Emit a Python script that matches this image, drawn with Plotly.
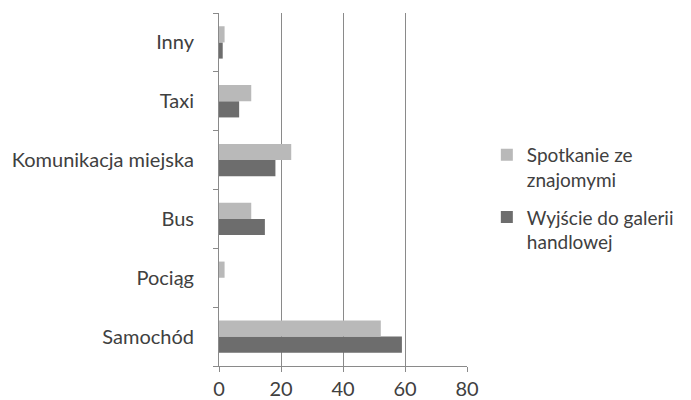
import plotly.graph_objects as go

categories = ["Samochód", "Pociąg", "Bus", "Komunikacja miejska", "Taxi", "Inny"]
spotkanie = [52.2, 1.8, 10.4, 23.3, 10.4, 1.8]
galeria = [59.0, 0, 14.8, 18.2, 6.5, 1.2]
x_ticks = [0, 20, 40, 60, 80]

font = dict(family="Lato, Open Sans, sans-serif", size=20, color="#404040")

fig = go.Figure()
fig.add_trace(go.Bar(y=categories, x=galeria, orientation="h",
                     name="Wyjście do galerii<br>handlowej", legendgroup="b", legendrank=2,
                     marker=dict(color="#6d6d6d", line=dict(width=0))))
fig.add_trace(go.Bar(y=categories, x=spotkanie, orientation="h",
                     name="Spotkanie ze<br>znajomymi", legendgroup="a", legendrank=1,
                     marker=dict(color="#b9b9b9", line=dict(width=0))))

# page body adds an 8px offset, so the figure is 8px smaller and margins compensate
fig.update_layout(
    width=683, height=392,
    margin=dict(l=211, r=224, t=5, b=34, autoexpand=False),
    paper_bgcolor="white", plot_bgcolor="white",
    font=font,
    barmode="group", bargap=0.45, bargroupgap=0,
    legend=dict(traceorder="grouped", x=1.08, y=0.652, xanchor="left", yanchor="top",
                font=dict(size=19, color="#404040"), itemwidth=30, tracegroupgap=10,
                valign="top"),
    showlegend=True,
)
fig.update_xaxes(range=[0, 80], tickvals=x_ticks, showgrid=True, gridcolor="#8a8a8a", gridwidth=1,
                 showline=True, linecolor="#8a8a8a", ticks="outside", ticklen=5, tickcolor="#8a8a8a",
                 zeroline=False, fixedrange=True, automargin=False)
fig.update_yaxes(showline=True, linecolor="#8a8a8a", ticks="outside", ticklen=5, tickcolor="#8a8a8a",
                 tickson="boundaries", showgrid=False, ticklabelstandoff=20, fixedrange=True,
                 automargin=False)

fig.write_html("out.html")
